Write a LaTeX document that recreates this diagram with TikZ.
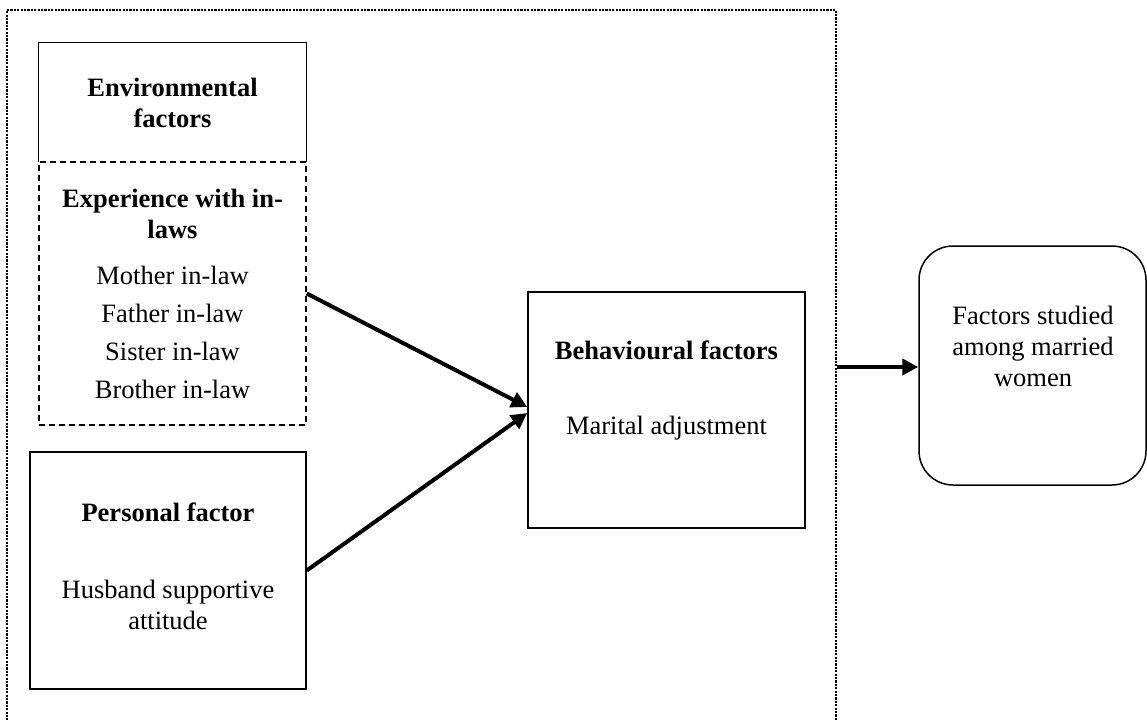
\documentclass[tikz,border=0pt]{standalone}
\usepackage{fontspec}
\setmainfont{Liberation Serif}
\usetikzlibrary{arrows.meta}

\begin{document}
\begin{tikzpicture}[x=0.5pt, y=-0.5pt, font={\fontsize{13.25}{15.5}\selectfont}]
	\tikzstyle{box} = [ draw, rectangle, line width=0.75pt, inner sep=0pt, align=center ];
	\tikzstyle{txt} = [ align=center, inner sep=0pt ];
	\tikzstyle{head} = [ txt, font={\fontsize{13.25}{15.5}\selectfont\bfseries} ];
	\tikzstyle{link} = [ -{Triangle[length=8pt, width=8pt]}, line width=2pt ];

	\useasboundingbox (0,0) rectangle (1147,719);

	% outer frame, its bottom runs off the page
	\node[draw, line width=1.1pt, dash pattern=on 1.1pt off 0.6pt, minimum width=414.5pt, minimum height=357pt] (frame) at (421.5,367) {};

	% environmental factors
	\node[head, minimum width=133.5pt, minimum height=59.5pt] (env) at (172.5,102.5) {Environmental\\factors};
	\draw[line width=0.75pt] (env.south west) |- (env.north east) -- (env.south east);

	\node[box, dashed, dash pattern=on 3pt off 2pt, minimum width=133.5pt, minimum height=131.5pt] (exp) at (172.5,293.5) {};
	\node[head] (exphead) at (172.5,214) {Experience with in-\\laws};

	\foreach \rel [count=\i] in {Mother,Father,Sister,Brother} {
		\node[txt] (rel\i) at (172.5, 236.7+38.3*\i) {\rel\ in-law};
	}

	% personal factor
	\node[box, minimum width=138pt, minimum height=118.5pt] (pers) at (168,570.5) {};
	\node[head] (pershead) at (168,512) {Personal factor};
	\node[txt] (perstext) at (168,605) {Husband supportive\\attitude};

	% behavioural factors
	\node[box, minimum width=138.5pt, minimum height=118pt] (beh) at (666.5,410) {};
	\node[head] (behhead) at (666.5,350) {Behavioural factors};
	\node[txt] (behtext) at (666.5,428) {Marital adjustment};

	% result
	\node[box, rounded corners=17pt, minimum width=113.5pt, minimum height=119.5pt] (res) at (1032.5,365.5) {};
	\node[txt] (restext) at (1033,346) {Factors studied\\among married\\women};

	\draw[link] (exp.east) to ([yshift=1.5pt]beh.west);
	\draw[link] (pers.east) to ([yshift=-1.5pt]beh.west);
	\draw[link] (frame.east) to (frame.east -| res.west);
\end{tikzpicture}
\end{document}
